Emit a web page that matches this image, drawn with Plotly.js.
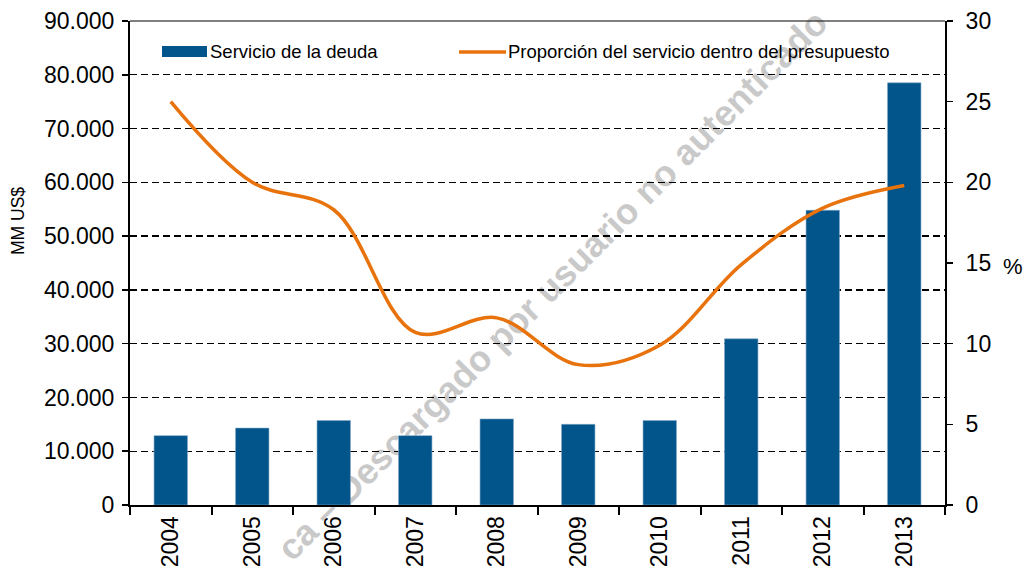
<!DOCTYPE html>
<html>
<head>
<meta charset="utf-8">
<script src="https://cdn.plot.ly/plotly-3.0.1.min.js"></script>
<style>html,body{margin:0;padding:0;background:#fff;}#chart{width:1026px;height:567px;}</style>
</head>
<body>
<div id="chart"></div>
<script>
var years = ['2004','2005','2006','2007','2008','2009','2010','2011','2012','2013'];
var servicioDeuda = [12900, 14300, 15700, 12900, 16000, 15000, 15700, 30900, 54800, 78500];
var proporcion = [25.0, 20.0, 18.3, 10.7, 11.6, 8.7, 9.9, 14.9, 18.4, 19.8];
var yLeftTicks = [0,10000,20000,30000,40000,50000,60000,70000,80000,90000];
var yLeftLabels = ['0','10.000','20.000','30.000','40.000','50.000','60.000','70.000','80.000','90.000'];
var serie1Name = 'Servicio de la deuda';
var serie2Name = 'Proporción del servicio dentro del presupuesto';
var watermark = 'ca – Descargado por usuario no autenticado';

var L = 130, R = 945, T = 21, B = 505, W = 1026, H = 567;
function px(x){ return (x - L) / (R - L); }
function py(y){ return (B - y) / (B - T); }

var FONT = 'Liberation Sans, Arial, sans-serif';
var barColor = '#02558B';
var lineColor = '#E8720C';

var traces = [
  {
    type: 'bar', x: years, y: servicioDeuda, name: serie1Name,
    marker: {color: barColor, line: {color: '#7fa6c4', width: 0.6}},
    width: 0.41, yaxis: 'y', showlegend: false, hoverinfo: 'x+y'
  },
  {
    type: 'scatter', mode: 'lines', x: years, y: proporcion, name: serie2Name,
    line: {color: lineColor, width: 3.5, shape: 'spline', smoothing: 1.0},
    yaxis: 'y2', showlegend: false
  }
];

var wmCx = 550, wmCy = 283, wmHalf = 300;

var layout = {
  width: W, height: H,
  margin: {l: L, r: W - R, t: T, b: H - B, pad: 0},
  paper_bgcolor: '#ffffff', plot_bgcolor: 'rgba(0,0,0,0)',
  font: {family: FONT, color: '#000', size: 23},
  showlegend: false,
  xaxis: {
    type: 'category', tickangle: -90,
    showline: true, linecolor: '#000', linewidth: 2,
    ticks: 'outside', tickson: 'boundaries', ticklen: 8, tickwidth: 2, tickcolor: '#000',
    showgrid: false, tickfont: {size: 23, family: FONT}
  },
  yaxis: {
    range: [0, 90000], tickvals: yLeftTicks, ticktext: yLeftLabels,
    showline: true, linecolor: '#000', linewidth: 2,
    ticks: 'outside', ticklen: 6, tickwidth: 1.5, tickcolor: '#000',
    showgrid: true, gridcolor: '#000', gridwidth: 1.3, griddash: '7px,4px',
    zeroline: false, tickfont: {size: 23, family: FONT}, ticklabelstandoff: 3
  },
  yaxis2: {
    range: [0, 30], dtick: 5, overlaying: 'y', side: 'right',
    showline: true, linecolor: '#000', linewidth: 2,
    ticks: 'outside', ticklen: 6, tickwidth: 1.5, tickcolor: '#000',
    showgrid: false, zeroline: false, tickfont: {size: 23, family: FONT}, ticklabelstandoff: 8
  },
  shapes: [
    {type: 'line', xref: 'paper', yref: 'paper', layer: 'below',
     x0: px(wmCx - wmHalf), y0: py(wmCy + wmHalf), x1: px(wmCx + wmHalf), y1: py(wmCy - wmHalf),
     line: {color: 'rgba(0,0,0,0)', width: 0},
     label: {text: '<b>' + watermark + '</b>', textposition: 'middle', textangle: 'auto',
             xanchor: 'center', yanchor: 'middle',
             font: {size: 36, family: FONT, color: '#c9c9c9', weight: 'bold'}}},
    {type: 'line', xref: 'paper', yref: 'paper', x0: 0, x1: 1, y0: 1, y1: 1, line: {color: '#000', width: 1}},
    {type: 'rect', xref: 'paper', yref: 'paper', x0: px(162), x1: px(207), y0: py(57), y1: py(46), fillcolor: barColor, line: {width: 0}},
    {type: 'line', xref: 'paper', yref: 'paper', x0: px(459), x1: px(506), y0: py(52), y1: py(52), line: {color: lineColor, width: 3.5}}
  ],
  annotations: [
    {xref: 'paper', yref: 'paper', x: px(208), y: py(52), xanchor: 'left', yanchor: 'middle', showarrow: false,
     text: serie1Name, font: {size: 18.5, family: FONT, color: '#000'}},
    {xref: 'paper', yref: 'paper', x: px(506), y: py(52), xanchor: 'left', yanchor: 'middle', showarrow: false,
     text: serie2Name, font: {size: 18.5, family: FONT, color: '#000'}},
    {xref: 'paper', yref: 'paper', x: px(1013), y: py(266), xanchor: 'center', yanchor: 'middle', showarrow: false,
     text: '%', font: {size: 22, family: FONT, color: '#000'}},
    {xref: 'paper', yref: 'paper', x: px(18), y: py(221), xanchor: 'center', yanchor: 'middle', showarrow: false,
     textangle: -90, text: 'MM US$', font: {size: 17.5, family: FONT, color: '#000'}}
  ]
};

Plotly.newPlot('chart', traces, layout, {displayModeBar: false, staticPlot: true});
</script>
</body>
</html>
